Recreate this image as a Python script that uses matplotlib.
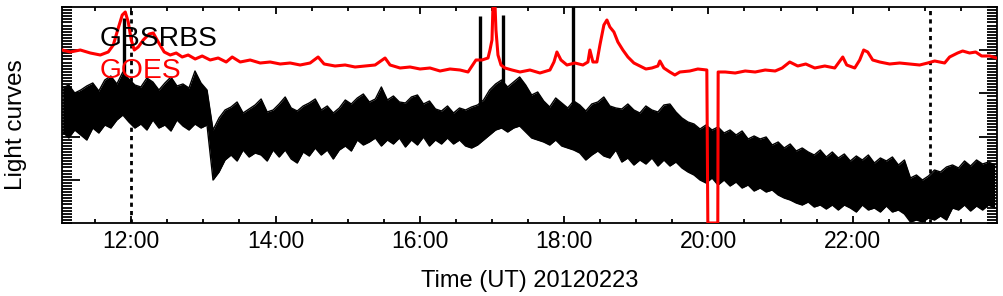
import numpy as np
import matplotlib
matplotlib.use("Agg")
import matplotlib.pyplot as plt

plt.rcParams['font.family'] = ['Liberation Sans', 'DejaVu Sans']

# GBSRBS radio light curve, read off as an upper / lower envelope every 5 min
# (arbitrary units, 0 = bottom of the panel)
gbs_start = 11.05          # hours UT
gbs_step = 5 / 60.0
gbs_hi = [135, 138, 130, 133, 137, 140, 132, 143, 147, 139, 151, 144, 138, 136, 145, 141,
          133, 140, 146, 137, 139, 135, 152, 140, 133,
          93, 105, 113, 116, 121, 110, 114, 118, 124, 111, 113, 119, 126, 115, 112, 117,
          120, 124, 113, 117, 110, 115, 123, 119, 125,
          129, 121, 124, 136, 123, 127, 121, 120, 126, 128, 119, 122, 114, 112, 117, 110,
          115, 113, 116, 118, 123, 133, 139, 143, 136,
          141, 146, 138, 128, 131, 122, 116, 125, 120, 115, 122, 118, 112, 119, 121, 126,
          117, 115, 114, 119, 113, 110, 117, 113, 111,
          118, 119, 111, 105, 101, 99, 94, 98, 93, 96, 90, 93, 88, 92, 84, 87,
          84, 86, 78, 81, 75, 79, 72, 75, 71,
          68, 73, 66, 71, 65, 69, 62, 67, 63, 68, 60, 65, 62, 66, 58, 63,
          45, 48, 43, 47, 53, 51, 56, 58, 55, 62, 57, 63, 59, 61, 58]
gbs_lo = [91, 85, 93, 88, 83, 95, 90, 98, 95, 103, 108, 101, 95, 99, 93, 103,
          95, 98, 92, 103, 97, 93, 99, 95, 98,
          43, 51, 63, 68, 62, 73, 66, 70, 68, 62, 73, 66, 73, 64, 60, 71,
          67, 75, 68, 73, 64, 73, 77, 72, 83,
          78, 81, 85, 77, 83, 79, 85, 76, 83, 78, 86, 77, 83, 79, 85, 79,
          83, 77, 75, 78, 83, 88, 93, 95, 91,
          95, 97, 91, 85, 83, 81, 78, 83, 77, 75, 73, 70, 63, 68, 72, 67,
          65, 73, 61, 65, 58, 63, 59, 65, 57,
          63, 57, 61, 55, 51, 48, 43, 40, 45, 38, 43, 37, 41, 35, 38, 32,
          35, 31, 33, 28, 25, 23, 20, 18, 21,
          16, 18, 14, 18, 13, 18, 15, 11, 18, 13, 15, 11, 17, 11, 13, 9,
          1, 3, 1, 5, 3, 7, 3, 15, 13, 18, 12, 17, 13, 18, 15]

# short isolated spikes in the GBSRBS curve
spike_t = [11.903, 16.834, 17.152, 18.122]
spike_base = [110, 110, 100, 105]
spike_top = [205, 207, 208, 230]

# GOES light curve (same arbitrary units)
goes_t = [11.044, 11.155, 11.294, 11.432, 11.571, 11.681, 11.751, 11.820, 11.875, 11.917,
          11.958, 12.000, 12.042, 12.097, 12.166, 12.249, 12.305, 12.374, 12.457, 12.540,
          12.623, 12.706, 12.789, 12.886, 12.983, 13.094, 13.205, 13.316, 13.399, 13.510,
          13.648, 13.787, 13.925, 14.064, 14.202, 14.341, 14.479, 14.590, 14.673, 14.825,
          14.964, 15.102, 15.241, 15.380, 15.518, 15.587, 15.726, 15.864, 16.003, 16.141,
          16.280, 16.418, 16.557, 16.668, 16.723, 16.778, 16.861, 16.945, 16.972, 17.000,
          17.014, 17.042, 17.055, 17.083, 17.125, 17.180, 17.277, 17.388, 17.526, 17.665,
          17.803, 17.859, 17.900, 17.956, 18.039, 18.150, 18.260, 18.330, 18.357, 18.399,
          18.454, 18.496, 18.551, 18.593, 18.634, 18.690, 18.745, 18.814, 18.884, 18.967,
          19.050, 19.133, 19.216, 19.299, 19.327, 19.382, 19.465, 19.535, 19.604, 19.742,
          19.853, 19.978, 19.992, 20.130, 20.135, 20.233, 20.371, 20.510, 20.648, 20.787,
          20.925, 21.022, 21.127, 21.238, 21.349, 21.474, 21.613, 21.751, 21.862, 21.917,
          22.028, 22.097, 22.152, 22.208, 22.277, 22.374, 22.512, 22.651, 22.789, 22.928,
          23.039, 23.136, 23.274, 23.343, 23.454, 23.524, 23.620, 23.704, 23.787, 23.898,
          23.994]
goes_v = [173, 171, 173, 170, 168, 171, 178, 195, 208, 211,
          201, 183, 173, 176, 183, 189, 190, 181, 171, 168,
          170, 166, 168, 164, 167, 163, 165, 161, 166, 161,
          163, 160, 161, 159, 160, 158, 160, 166, 159, 157,
          158, 156, 157, 158, 165, 158, 155, 156, 154, 155,
          152, 154, 153, 151, 157, 163, 163, 165, 173, 183,
          218, 218, 193, 168, 158, 155, 153, 151, 153, 150,
          153, 161, 171, 163, 158, 160, 158, 161, 173, 161,
          161, 178, 198, 203, 196, 191, 181, 173, 166, 160,
          157, 154, 155, 157, 162, 155, 151, 148, 151, 152,
          154, 153, 0, 0, 151, 151, 150, 152, 151, 153,
          152, 155, 161, 157, 159, 155, 157, 155, 166, 158,
          155, 163, 173, 171, 163, 161, 159, 160, 159, 158,
          160, 162, 160, 166, 170, 172, 170, 171, 167, 167,
          165]

marker_times = [12.0, 23.073]
hour_ticks = [12, 14, 16, 18, 20, 22]
hour_labels = ['12:00', '14:00', '16:00', '18:00', '20:00', '22:00']

fig = plt.figure(figsize=(10.04, 2.96), dpi=100)
ax = fig.add_axes([62 / 1004, 73 / 296, 935 / 1004, 216 / 296])

gbs_t = gbs_start + gbs_step * np.arange(len(gbs_hi))

for tm in marker_times:
    ax.axvline(tm, color='black', lw=2, linestyle=(0, (1.5, 1.5)), zorder=1)

# noisy radio curve: filled envelope with its ragged edges
ax.fill_between(gbs_t, gbs_lo, gbs_hi, color='black', lw=0, zorder=2)
ax.plot(gbs_t, gbs_hi, color='black', lw=1.0, zorder=2)
ax.plot(gbs_t, gbs_lo, color='black', lw=1.0, zorder=2)
ax.vlines(spike_t, spike_base, spike_top, color='black', lw=2.4, zorder=2)

ax.plot(goes_t, goes_v, color='red', lw=2.2, zorder=3)

ax.set_xlim(11.04, 24.0)
ax.set_ylim(0, 216)

ax.set_xticks(hour_ticks)
ax.set_xticklabels(hour_labels)
ax.set_xticks(np.arange(11.5, 24.0, 0.5), minor=True)
ax.set_yticks([43.2, 86.4, 129.6, 172.8])
ax.set_yticks(np.arange(0, 216.01, 43.2 / 14), minor=True)
ax.set_yticklabels([])

ax.tick_params(axis='both', which='both', direction='in', top=True, right=True,
               width=1.3, labelsize=16.5, pad=5)
ax.tick_params(axis='x', which='major', length=5)
ax.tick_params(axis='x', which='minor', length=3)
ax.tick_params(axis='y', which='major', length=13)
ax.tick_params(axis='y', which='minor', length=7)
for sp in ax.spines.values():
    sp.set_linewidth(1.3)

ax.set_xlabel('Time (UT) 20120223', fontsize=17, labelpad=12)
fig.text(16 / 1004, 1 - 125 / 296, 'Light curves', rotation=90, fontsize=17.5,
         ha='center', va='center')

fig.text(100 / 1004, 1 - 46 / 296, 'GBSRBS', color='black', fontsize=20.3, va='baseline')
fig.text(100 / 1004, 1 - 78 / 296, 'GOES', color='red', fontsize=20.3, va='baseline')

fig.savefig('out.png', dpi=100)
